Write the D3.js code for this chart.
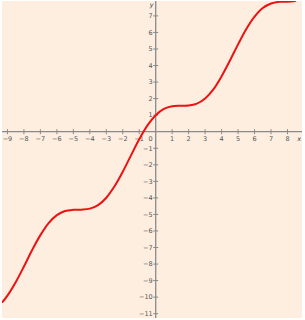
<!DOCTYPE html>
<html><head><meta charset="utf-8">
<script src="https://cdn.jsdelivr.net/npm/d3@7"></script>
<style>body{margin:0;background:#fff}svg{display:block}</style>
</head><body>
<svg id="c" width="305" height="320"></svg>
<script>
const xs = [-9.33,-9,-8.5,-8,-7.5,-7,-6.5,-6,-5.5,-5,-4.5,-4,-3.5,-3,-2.5,-2,-1.5,-1,-0.5,0,0.5,1,1.5,2,2.5,3,3.5,4,4.5,5,5.5,6,6.5,7,7.5,8,8.5];
const ys = [-10.33,-9.91,-9.10,-8.15,-7.15,-6.25,-5.52,-5.04,-4.79,-4.72,-4.71,-4.65,-4.44,-3.99,-3.30,-2.42,-1.43,-0.46,0.38,1.00,1.38,1.54,1.57,1.58,1.70,2.01,2.56,3.35,4.29,5.28,6.21,6.96,7.48,7.75,7.85,7.85,7.90];
const xTicks = [-9,-8,-7,-6,-5,-4,-3,-2,-1,1,2,3,4,5,6,7,8];
const yTicks = [7,6,5,4,3,2,1,-1,-2,-3,-4,-5,-6,-7,-8,-9,-10,-11];
const xDomain = [-9.33, 8.88];
const yDomain = [-11.26, 7.90];

const svg = d3.select("#c");
const L=2,R=302,T=1,B=318;
const x = d3.scaleLinear().domain(xDomain).range([L,R]);
const y = d3.scaleLinear().domain(yDomain).range([B,T]);
const fmt = v => (v<0 ? "\u2212"+Math.abs(v) : ""+v);
const axisCol="#8a8a8a", txtCol="#555";

svg.append("defs").append("clipPath").attr("id","clip")
  .append("rect").attr("x",L).attr("y",T).attr("width",R-L).attr("height",B-T);
svg.append("rect").attr("x",L).attr("y",T).attr("width",R-L).attr("height",B-T).attr("fill","#fdeee0");

// x axis
svg.append("line").attr("x1",L).attr("x2",R).attr("y1",y(0)).attr("y2",y(0))
  .attr("stroke",axisCol).attr("stroke-width",1.3);
svg.append("line").attr("x1",x(0)).attr("x2",x(0)).attr("y1",T).attr("y2",B)
  .attr("stroke",axisCol).attr("stroke-width",1.3);

const gx = svg.append("g");
gx.selectAll("line").data(xTicks).join("line")
  .attr("x1",d=>x(d)).attr("x2",d=>x(d)).attr("y1",y(0)-2.5).attr("y2",y(0)+2.5)
  .attr("stroke",axisCol).attr("stroke-width",1);
gx.selectAll("text").data(xTicks).join("text")
  .attr("x",d=>x(d)).attr("y",y(0)+9).attr("text-anchor","middle")
  .attr("font-family","DejaVu Sans").attr("font-size",6.5).attr("fill",txtCol)
  .text(fmt);

const gy = svg.append("g");
gy.selectAll("line").data(yTicks).join("line")
  .attr("x1",x(0)-2.5).attr("x2",x(0)+2.5).attr("y1",d=>y(d)).attr("y2",d=>y(d))
  .attr("stroke",axisCol).attr("stroke-width",1);
gy.selectAll("text").data(yTicks).join("text")
  .attr("x",x(0)-3).attr("y",d=>y(d)+2.3).attr("text-anchor","end")
  .attr("font-family","DejaVu Sans").attr("font-size",6.5).attr("fill",txtCol)
  .text(fmt);

svg.append("text").attr("x",x(0)-3).attr("y",y(0)+9).attr("text-anchor","end")
  .attr("font-family","DejaVu Sans").attr("font-size",6.5).attr("fill",txtCol).text("0");
svg.append("text").attr("x",R-1).attr("y",y(0)+9).attr("text-anchor","end")
  .attr("font-family","DejaVu Sans").attr("font-size",6.5).attr("font-style","italic").attr("fill","#333").text("x");
svg.append("text").attr("x",x(0)-2).attr("y",T+6).attr("text-anchor","end")
  .attr("font-family","DejaVu Sans").attr("font-size",6.5).attr("font-style","italic").attr("fill","#333").text("y");

const pts = xs.map((v,i)=>[v,ys[i]]);
svg.append("path").datum(pts).attr("clip-path","url(#clip)")
  .attr("d", d3.line().x(d=>x(d[0])).y(d=>y(d[1])).curve(d3.curveCatmullRom))
  .attr("fill","none").attr("stroke","#ee1111").attr("stroke-width",2);
</script>
</body></html>
